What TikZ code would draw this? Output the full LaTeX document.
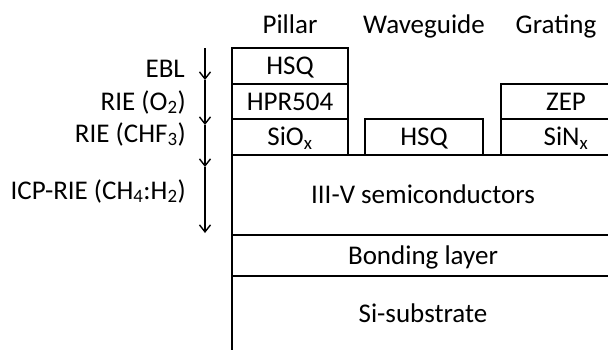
\documentclass[tikz,border=0pt]{standalone}
\usepackage{fontspec}
\setmainfont{Carlito}
\usetikzlibrary{arrows.meta}
\begin{document}
\begin{tikzpicture}[x=1pt,y=-1pt,
  font=\fontsize{27}{30}\selectfont,
  layerbox/.style={draw, line width=2pt, anchor=north west, inner sep=0pt, outer sep=0pt,
    text height=17.5pt, text depth=0pt},
  title/.style={anchor=base, inner sep=0pt},
  steplabel/.style={anchor=base east, inner sep=0pt},
  etcharrow/.style={line width=1.5pt, -{Straight Barb[length=7pt,width=11pt,line width=1.4pt]}}]
\useasboundingbox (0,0) rectangle (608,349);
\clip (0,0) rectangle (608,349);
% titles
\node[title] (tpillar) at (290,33) {Pillar};
\node[title] (twg) at (424,33) {Waveguide};
\node[title] (tgrating) at (556,33) {Grating};
% pillar stack
\node[layerbox, minimum width=116pt, minimum height=36pt] (phsq) at (232,48) {HSQ};
\node[layerbox, minimum width=116pt, minimum height=35pt] (phpr) at (232,84) {HPR504};
\node[layerbox, minimum width=116pt, minimum height=36pt] (psio) at (232,119) {SiO\textsubscript{x}};
% waveguide
\node[layerbox, minimum width=118pt, minimum height=36pt] (whsq) at (365,119) {HSQ};
% grating
\node[layerbox, minimum width=130pt, minimum height=35pt] (gzep) at (501,84) {ZEP};
\node[layerbox, minimum width=130pt, minimum height=36pt] (gsin) at (501,119) {SiN\textsubscript{x}};
% main layers
\node[layerbox, minimum width=382pt, minimum height=80pt] (iiiv) at (232,155) {III-V semiconductors};
\node[layerbox, minimum width=382pt, minimum height=41pt] (bond) at (232,235) {Bonding layer};
\node[inner sep=0pt, text height=17.5pt, text depth=0pt] (sub) at (423,314) {Si-substrate};
\coordinate (subbot) at (232,360);
\draw[line width=2pt] (bond.south west) -- (subbot);
% process arrows
\coordinate (a0) at (205,48);
\coordinate (a1) at (205,80);
\coordinate (a2) at (205,125);
\coordinate (a3) at (205,167);
\coordinate (a4) at (205,233);
\draw[etcharrow] (a0) -- (a1);
\draw[etcharrow] (a1) -- (a2);
\draw[etcharrow] (a2) -- (a3);
\draw[etcharrow] (a3) -- (a4);
% step labels
\node[steplabel] (lebl) at (185,77) {EBL};
\node[steplabel] (lrie1) at (186,110) {RIE (O\textsubscript{2})};
\node[steplabel] (lrie2) at (186,142) {RIE (CHF\textsubscript{3})};
\node[steplabel] (licp) at (186,199) {ICP-RIE (CH\textsubscript{4}:H\textsubscript{2})};
\end{tikzpicture}
\end{document}
